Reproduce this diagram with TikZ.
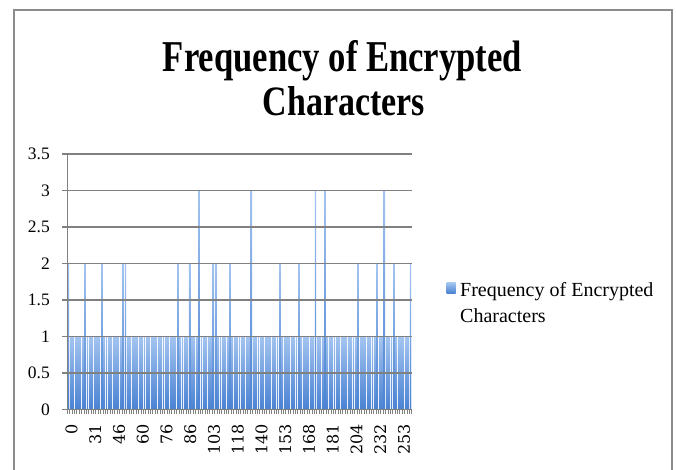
\documentclass[tikz,border=0pt]{standalone}
\usepackage{fontspec}
\setmainfont{Liberation Serif}
\newfontfamily\ticknumfont{DejaVu Serif}
\usepackage{graphicx}
\definecolor{gridgray}{HTML}{808080}
\definecolor{framegray}{HTML}{8C8C8C}
\definecolor{barhalo}{HTML}{D8E1EE}
\definecolor{bartop}{HTML}{A3C4F0}
\definecolor{barbottom}{HTML}{4A82D2}
\tikzset{
  gridline/.style={gridgray, line width=1.5pt},
  barhalostyle/.style={fill=barhalo, draw=none},
  barcore/.style={top color=bartop, bottom color=barbottom, draw=none},
  ylab/.style={anchor=east, font=\fontsize{17.5}{17.5}\selectfont, inner sep=0pt},
  xlab/.style={anchor=east, rotate=90, font=\ticknumfont\fontsize{16}{16}\selectfont, inner sep=0pt},
  legtext/.style={anchor=base west, font=\fontsize{20}{26}\selectfont, inner sep=0pt},
}
% one bar of category #1 reaching the y value #2
\newcommand{\chartbar}[2]{%
  \fill[barhalostyle] ({67.3+#1*\cw+0.1*\cw},409.3) rectangle ({67.3+(#1+1)*\cw-0.1*\cw},{409.3-#2*73});
  \fill[barcore] ({67.3+(#1+0.5)*\cw-0.7},409.3) rectangle ({67.3+(#1+0.5)*\cw+0.7},{409.3-#2*73});
}
\begin{document}
\begin{tikzpicture}[x=1pt,y=-1pt]
\useasboundingbox (0,0) rectangle (676,470);
% chart frame (open at the bottom)
\draw[framegray, line width=2pt] (14,470) -- (14,10) -- (672,10) -- (672,470);

% title
\node[anchor=base, inner sep=0pt] (title1) at (342.5,72)
  {\resizebox{359pt}{31pt}{\bfseries Frequency of Encrypted}};
\node[anchor=base, inner sep=0pt] (title2) at (344,116)
  {\resizebox{162pt}{29pt}{\bfseries Characters}};

% plot geometry: 145 categories between x=67.3 and x=411.7, value 0 at y=409.3, 73 per unit
\pgfmathsetmacro{\cw}{344.4/145}
% bars of height 1
\foreach \i in {0,...,144}{ \chartbar{\i}{1} }
% bars of height 2
\foreach \i in {0,7,14,23,24,46,51,61,62,68,89,97,122,130,137,144}{ \chartbar{\i}{2} }
% bars of height 3
\foreach \i in {55,77,104,108,133}{ \chartbar{\i}{3} }

% horizontal gridlines and y labels
\foreach \v/\t [count=\k] in {0/0,0.5/0.5,1/1,1.5/1.5,2/2,2.5/2.5,3/3,3.5/3.5}{
  \draw[gridline] (62,{409.3-\v*73}) -- (411.7,{409.3-\v*73});
  \node[ylab] (ylab\k) at (50,{409.3-\v*73}) {\t};
}
% vertical axis
\draw[gridline] (67.3,153.8) -- (67.3,413.5);
% category ticks
\foreach \i in {1,...,145}{
  \draw[gridgray, line width=0.8pt] ({67.3+\i*\cw},409.3) -- ({67.3+\i*\cw},413.8);
}

% category labels, every tenth category
\foreach \t [count=\k from 0] in {0,31,46,60,76,86,103,118,140,153,168,181,204,232,253}{
  \node[xlab] (xlab\k) at ({67.3+(10*\k+0.5)*\cw+3},424) {\t};
}

% legend
\fill[top color=bartop, bottom color=barbottom] (446.7,282.7) rectangle (455.7,293.3);
\coordinate (legkey) at (451.2,288);
\node[legtext] (legend1) at (460,296.7) {Frequency of Encrypted};
\node[legtext] (legend2) at (460,322.7) {Characters};
\end{tikzpicture}
\end{document}
